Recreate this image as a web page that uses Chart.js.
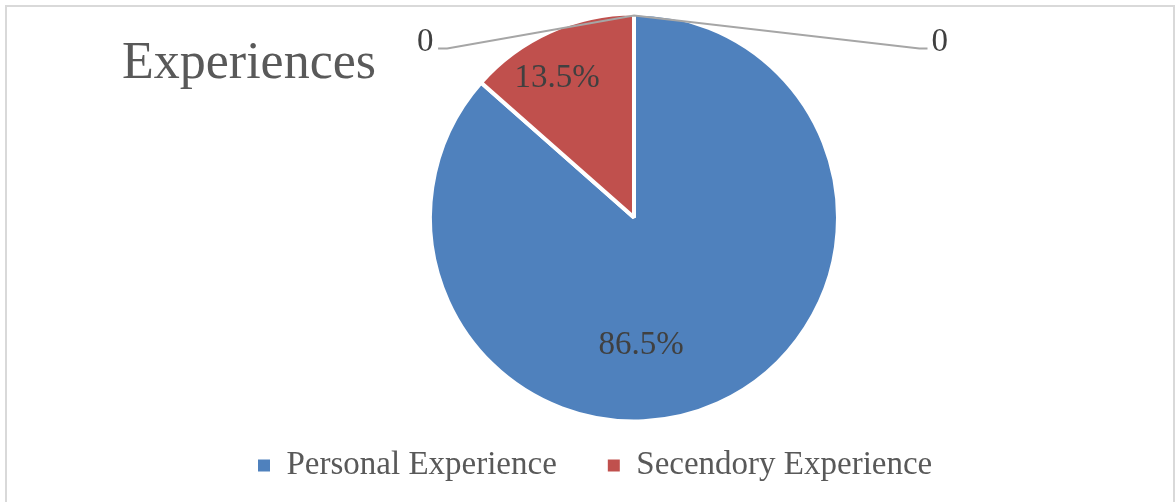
<!DOCTYPE html>
<html>
<head>
<meta charset="utf-8">
<script src="https://cdn.jsdelivr.net/npm/chart.js@4"></script>
<style>
  html, body { margin: 0; padding: 0; background: #fff; }
  #frame { position: absolute; left: 5px; top: 5px; width: 1170px; height: 497px; box-sizing: border-box;
           border: 2px solid #d9d9d9; border-bottom: none; }
  #wrap { position: absolute; left: 0; top: 0; width: 1175px; height: 502px; }
</style>
</head>
<body>
<div id="frame"></div>
<div id="wrap"><canvas id="pie-canvas" width="1175" height="502"></canvas></div>
<script>
// chart data
const chartTitle = "Experiences";
const categories = ["Personal Experience", "Secendory Experience"];
const shares = [86.5, 13.5];
const shareLabels = ["86.5%", "13.5%"];
const zeroLabels = ["0", "0"];
const sliceColors = ["#4f81bd", "#c0504d"];

const serif = '"Liberation Serif", "DejaVu Serif", serif';

// where the % labels sit, as a fraction of the radius from the centre
const labelSpots = [[0.035, 0.634], [-0.38, -0.689]];

const titlePlugin = {
  id: "excelTitle",
  afterDraw(chart) {
    let ctx = chart.ctx;
    ctx.save();
    ctx.font = "52px " + serif;
    ctx.fillStyle = "#595959";
    ctx.textBaseline = "alphabetic";
    ctx.fillText(chartTitle, 122, 78);
    ctx.restore();
  }
};

const labelPlugin = {
  id: "sliceLabels",
  afterDatasetsDraw(chart) {
    let ctx = chart.ctx;
    let arcs = chart.getDatasetMeta(0).data;
    let cx = arcs[0].x, cy = arcs[0].y;
    let r = arcs[0].outerRadius - 2;
    ctx.save();
    ctx.font = "33px " + serif;
    ctx.fillStyle = "#404040";
    ctx.textAlign = "center";
    ctx.textBaseline = "middle";
    arcs.forEach(function (arc, i) {
      ctx.fillText(shareLabels[i], cx + labelSpots[i][0] * r, cy + labelSpots[i][1] * r);
    });

    // zero-valued categories: leader lines from the top of the pie
    let top = cy - r;
    let ly = top + 33;
    ctx.strokeStyle = "#a6a6a6";
    ctx.lineWidth = 2;
    ctx.beginPath();
    ctx.moveTo(cx - 0.97 * r, ly);
    ctx.lineTo(cx - 0.925 * r, ly);
    ctx.lineTo(cx, top);
    ctx.lineTo(cx + 1.413 * r, ly);
    ctx.lineTo(cx + 1.453 * r, ly);
    ctx.stroke();

    ctx.textBaseline = "alphabetic";
    ctx.textAlign = "right";
    ctx.fillText(zeroLabels[0], cx - 0.993 * r, ly + 2);
    ctx.textAlign = "left";
    ctx.fillText(zeroLabels[1], cx + 1.473 * r, ly + 2);
    ctx.restore();
  }
};

let ctx = document.getElementById("pie-canvas").getContext("2d");

window.myChart = new Chart(ctx, {
  type: "pie",
  data: {
    labels: categories,
    datasets: [
      {
        data: shares,
        backgroundColor: sliceColors,
        borderColor: "#ffffff",
        borderWidth: 4,
        radius: 204,
        clip: false
      }
    ]
  },
  options: {
    responsive: false,
    animation: false,
    layout: {
      padding: { left: 207, right: 114, top: 37, bottom: 10 }
    },
    plugins: {
      title: { display: false },
      tooltip: { enabled: false },
      legend: {
        position: "bottom",
        align: "start",
        labels: {
          boxWidth: 12,
          boxHeight: 12,
          padding: 51,
          color: "#595959",
          font: { family: serif, size: 33 },
          generateLabels: function (chart) {
            let items = Chart.overrides.pie.plugins.legend.labels.generateLabels(chart);
            return items.map(function (it) {
              it.lineWidth = 0;
              it.strokeStyle = it.fillStyle;
              return it;
            });
          }
        }
      }
    }
  },
  plugins: [titlePlugin, labelPlugin]
});
</script>
</body>
</html>
